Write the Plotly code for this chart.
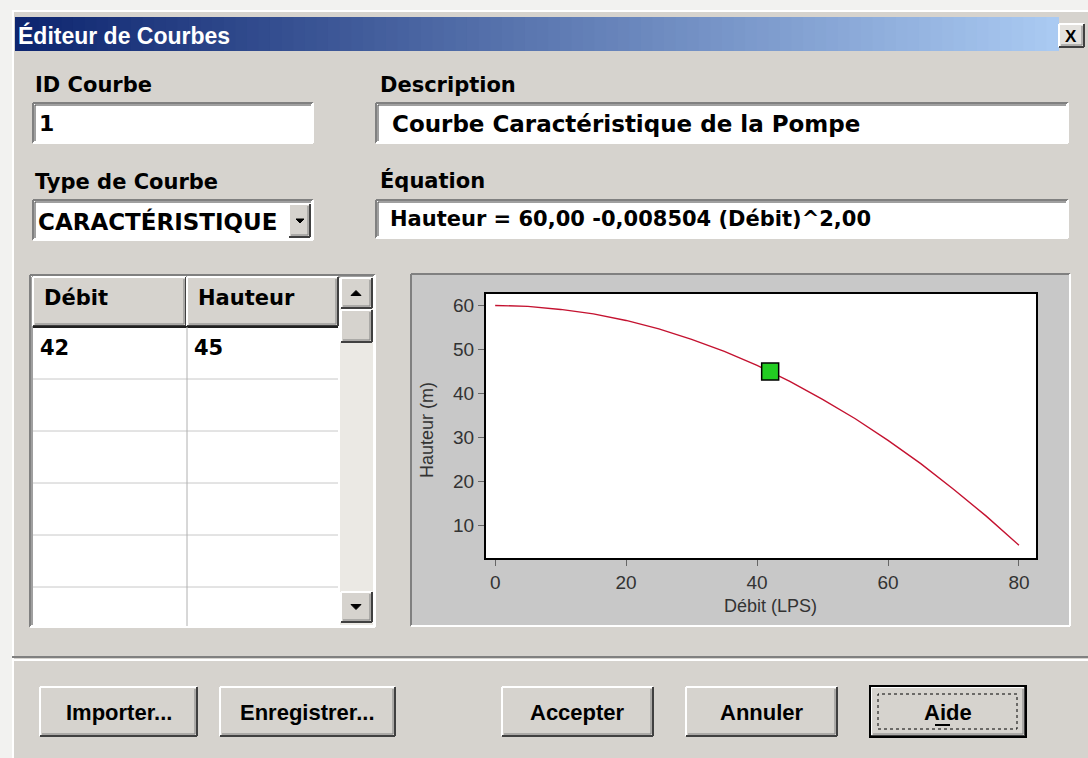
import plotly.graph_objects as go

W, H = 1088, 758

# courbe caractéristique
flow = [0, 5, 10, 15, 20, 25, 30, 35, 40, 45, 50, 55, 60, 65, 70, 75, 80]
head = [60.0, 59.8, 59.1, 58.1, 56.6, 54.7, 52.3, 49.6, 46.4, 42.8, 38.7, 34.3, 29.4, 24.1, 18.3, 12.2, 5.6]
point_flow = [42]
point_head = [45]
x_ticks = [0, 20, 40, 60, 80]
y_ticks = [10, 20, 30, 40, 50, 60]

curve_id = "1"
description = "Courbe Caractéristique de la Pompe"
curve_type = "CARACTÉRISTIQUE"
equation = "Hauteur = 60,00 -0,008504 (Débit)^2,00"
table_cols = ["Débit", "Hauteur"]
button_labels = ["Importer...", "Enregistrer...", "Accepter", "Annuler", "Aide"]

FACE = "#d6d3ce"
DARK = "#808080"
LABEL_FONT = "DejaVu Sans"
BTN_FONT = "Liberation Sans"

shapes = []
annotations = []


def px(x):
    return x / W


def py(y):
    return 1 - y / H


def rect(x0, y0, x1, y1, fill=None, line=None, width=1, dash=None):
    shapes.append(dict(type="rect", xref="paper", yref="paper", layer="below",
                       x0=px(x0), x1=px(x1), y0=py(y1), y1=py(y0),
                       fillcolor=fill or "rgba(0,0,0,0)",
                       line=dict(color=line or "rgba(0,0,0,0)", width=width if line else 0, dash=dash)))


def seg(x0, y0, x1, y1, color, width=1):
    shapes.append(dict(type="line", xref="paper", yref="paper", layer="below",
                       x0=px(x0), x1=px(x1), y0=py(y0), y1=py(y1),
                       line=dict(color=color, width=width)))


def tri(x, y, size, up=True):
    d = -1 if up else 1
    path = "M {} {} L {} {} L {} {} Z".format(
        px(x - size), py(y - d * size / 2), px(x + size), py(y - d * size / 2), px(x), py(y + d * size / 2))
    shapes.append(dict(type="path", xref="paper", yref="paper", layer="below", path=path,
                       fillcolor="black", line=dict(color="black", width=1)))


def text(x, y, s, size=20, color="black", bold=True, family=LABEL_FONT, anchor="left", angle=0):
    annotations.append(dict(x=px(x), y=py(y), xref="paper", yref="paper", showarrow=False,
                            text="<b>%s</b>" % s if bold else s, xanchor=anchor, yanchor="middle",
                            textangle=angle, font=dict(family=family, size=size, color=color)))


def sunken(x0, y0, x1, y1, fill="white"):
    rect(x0, y0, x1, y1, fill=fill)
    seg(x0, y0, x1, y0, DARK, 2)
    seg(x0, y0, x0, y1, DARK, 2)
    seg(x0 + 2, y0 + 2, x1 - 2, y0 + 2, "#404040", 1)
    seg(x0 + 2, y0 + 2, x0 + 2, y1 - 2, "#404040", 1)
    seg(x0, y1, x1, y1, "white", 2)
    seg(x1, y0, x1, y1, "white", 2)


def raised(x0, y0, x1, y1, fill=FACE):
    rect(x0, y0, x1, y1, fill=fill)
    seg(x0, y0, x1, y0, "white", 2)
    seg(x0, y0, x0, y1, "white", 2)
    seg(x0, y1, x1, y1, "#404040", 2)
    seg(x1, y0, x1, y1, "#404040", 2)
    seg(x0 + 2, y1 - 2, x1 - 2, y1 - 2, DARK, 1)
    seg(x1 - 2, y0 + 2, x1 - 2, y1 - 2, DARK, 1)


# fenêtre
rect(12, 10, 1088, 758, fill=FACE)
seg(12, 11, 1088, 11, "white", 2)
seg(13, 10, 13, 758, "white", 2)

# barre de titre en dégradé
c0 = (14, 38, 112)
c1 = (170, 202, 242)
n = 90
for i in range(n):
    t = i / (n - 1)
    col = "rgb(%d,%d,%d)" % tuple(int(a + (b - a) * t) for a, b in zip(c0, c1))
    xa = 15 + (1058 - 15) * i / n
    xb = 15 + (1058 - 15) * (i + 1) / n + 1
    rect(xa, 17, xb, 51, fill=col)
text(16, 35, "Éditeur de Courbes", size=23, color="white", family=BTN_FONT)
raised(1059, 24, 1084, 47, fill="#e4e2de")
text(1071, 36, "X", size=17, family=BTN_FONT, anchor="center")

# champs du haut
text(33, 85, "ID Courbe", size=21)
text(378, 85, "Description", size=21)
text(33, 182, "Type de Courbe", size=21)
text(378, 181, "Équation", size=21)

sunken(33, 103, 313, 143)
text(37, 124, curve_id, size=22)
sunken(376, 103, 1068, 143)
text(390, 124, description, size=23)

sunken(33, 200, 313, 240)
text(36, 221, curve_type, size=23)
raised(289, 204, 310, 237)
tri(300, 221, 4, up=False)
sunken(376, 200, 1068, 238)
text(388, 219, equation, size=21)

# tableau des points
sunken(30, 275, 375, 627)
rect(340, 277, 373, 625, fill="#ebe9e4")
raised(33, 277, 186, 326)
raised(187, 277, 338, 326)
seg(33, 327, 338, 327, "#202020", 2)
for yl in [379, 431, 483, 535, 587]:
    seg(33, yl, 338, yl, "#c8c8c8", 1)
seg(187, 327, 187, 626, "#b0b0b0", 1)
text(42, 298, table_cols[0], size=21)
text(196, 298, table_cols[1], size=21)
text(38, 348, str(point_flow[0]), size=21)
text(192, 348, str(point_head[0]), size=21)
# barre de défilement
raised(341, 278, 372, 308)
tri(356, 293, 5, up=True)
raised(341, 310, 372, 342)
raised(341, 592, 372, 622)
tri(356, 607, 5, up=False)

# panneau du graphique
rect(411, 274, 1070, 626, fill="#c8c8c8")
seg(411, 274, 1070, 274, DARK, 2)
seg(411, 274, 411, 626, DARK, 2)
seg(411, 626, 1070, 626, "white", 2)
seg(1070, 274, 1070, 626, "white", 2)
rect(486, 294, 1036, 558, fill="white")

# séparateur
seg(12, 657, 1088, 657, DARK, 2)
seg(12, 660, 1088, 660, "white", 2)

# boutons
btn_pos = [(40, 197), (220, 395), (502, 653), (686, 837), (871, 1025)]
for (xa, xb), lab in zip(btn_pos, button_labels):
    raised(xa, 687, xb, 736)
    text((xa + xb) / 2, 712, lab, size=22, family=BTN_FONT, anchor="center")
xa, xb = btn_pos[-1]
rect(xa - 1, 686, xb + 1, 737, line="black", width=2)
rect(xa + 7, 694, xb - 8, 729, line="black", width=1, dash="dot")
seg(935, 725, 950, 725, "black", 2)

# titres des axes
text(427, 430, "Hauteur (m)", size=18, color="#333333", bold=False, family=BTN_FONT, anchor="center", angle=-90)
text(770, 606, "Débit (LPS)", size=18, color="#333333", bold=False, family=BTN_FONT, anchor="center")

fig = go.Figure()
fig.add_trace(go.Scatter(x=flow, y=head, mode="lines", line=dict(color="#c41230", width=1.4),
                         hoverinfo="skip"))
fig.add_trace(go.Scatter(x=point_flow, y=point_head, mode="markers",
                         marker=dict(symbol="square", size=17, color="#22cc22",
                                     line=dict(color="black", width=1.5))))

axis_font = dict(family=BTN_FONT, size=19, color="#333333")
fig.update_layout(
    width=W, height=H, autosize=False,
    margin=dict(l=0, r=0, t=0, b=0),
    paper_bgcolor="#f2f2f0",
    plot_bgcolor="rgba(0,0,0,0)",
    showlegend=False,
    shapes=shapes,
    annotations=annotations,
    xaxis=dict(domain=[px(486), px(1036)], range=[-1.4, 82.6], tickvals=x_ticks,
               ticks="outside", ticklen=6, tickcolor="#666666", tickfont=axis_font,
               showgrid=False, zeroline=False, showline=True, mirror=True,
               linecolor="black", linewidth=2, fixedrange=True),
    yaxis=dict(domain=[py(558), py(294)], range=[2.7, 62.6], tickvals=y_ticks,
               ticks="outside", ticklen=6, tickcolor="#666666", tickfont=axis_font,
               showgrid=False, zeroline=False, showline=True, mirror=True,
               linecolor="black", linewidth=2, fixedrange=True),
)

fig.write_html("out.html", config={"displayModeBar": False},
               post_script="document.body.style.margin='0';")
